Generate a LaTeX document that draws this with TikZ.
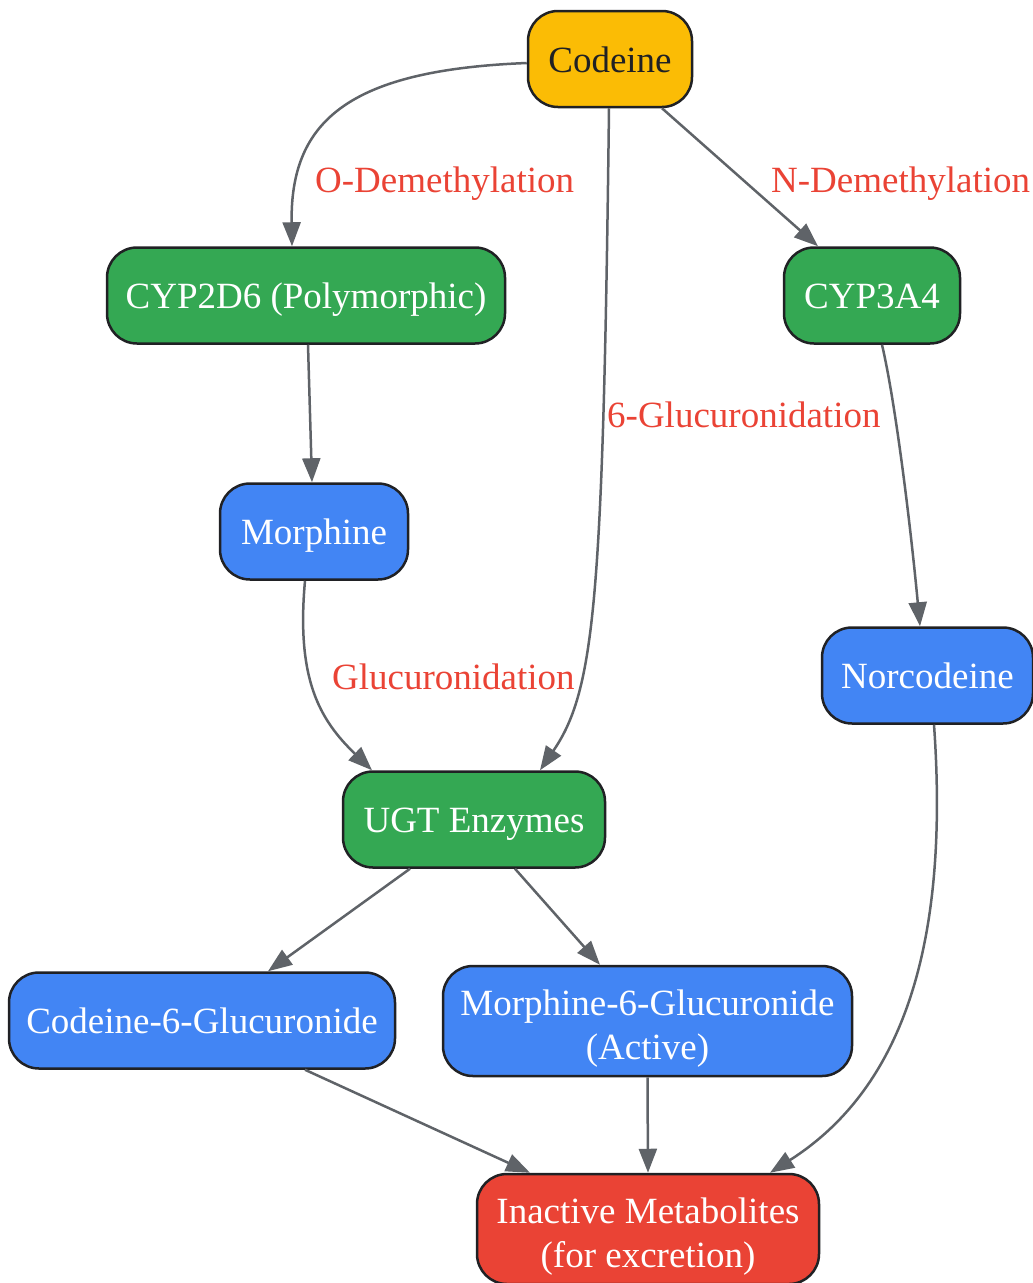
\documentclass[tikz,border=0pt]{standalone}
\usepackage{fontspec}
\setmainfont{Liberation Serif}
\usetikzlibrary{arrows.meta}
\definecolor{gyellow}{HTML}{FBBC05}
\definecolor{ggreen}{HTML}{34A853}
\definecolor{gblue}{HTML}{4285F4}
\definecolor{gred}{HTML}{EA4335}
\definecolor{gedge}{HTML}{5F6368}
\definecolor{gborder}{HTML}{202124}
\newcommand{\nstrut}{\rule[-8pt]{0pt}{42pt}}
\newcommand{\topstrut}{\rule{0pt}{40pt}}
\tikzset{
  box/.style={draw=gborder, line width=2.5pt, rounded corners=30pt, minimum height=96pt,
    inner sep=0pt, text=white, align=center, font=\fontsize{37}{44}\selectfont},
  edge/.style={draw=gedge, line width=2.5pt, -{Triangle[length=24pt,width=18pt]}},
  lbl/.style={text=gred, anchor=west, inner sep=0pt, font=\fontsize{37}{44}\selectfont}
}

\begin{document}
\begin{tikzpicture}[x=1pt, y=-1pt]
  \useasboundingbox (0,0) rectangle (1033,1283);
  % Nodes
  \node[box, fill=gyellow, text=gborder, minimum width=164pt] (codeine) at (610,59) {\nstrut Codeine};
  \node[box, fill=ggreen, minimum width=398pt] (cyp2d6) at (306,295.5) {\nstrut CYP2D6 (Polymorphic)};
  \node[box, fill=ggreen, minimum width=176pt] (cyp3a4) at (872,295.5) {\nstrut CYP3A4};
  \node[box, fill=gblue, minimum width=188pt] (morphine) at (314,531.5) {\nstrut Morphine};
  \node[box, fill=gblue, minimum width=211pt] (norcodeine) at (927.5,675.5) {\nstrut Norcodeine};
  \node[box, fill=ggreen, minimum width=262pt] (ugt) at (474,819.5) {\nstrut UGT Enzymes};
  \node[box, fill=gblue, minimum width=386pt] (c6g) at (202,1020.5) {\nstrut Codeine-6-Glucuronide};
  \node[box, fill=gblue, minimum width=409pt, minimum height=110pt] (m6g) at (647.5,1021) {\topstrut Morphine-6-Glucuronide\\(Active)\nstrut};
  \node[box, fill=gred, minimum width=342pt, minimum height=110pt] (inactive) at (648,1229) {\topstrut Inactive Metabolites\\(for excretion)\nstrut};

  % Edge labels
  \node[lbl] (odem) at (315,179) {\nstrut O-Demethylation};
  \node[lbl] (ndem) at (771,179) {\nstrut N-Demethylation};
  \node[lbl] (glc6) at (607,414) {\nstrut 6-Glucuronidation};
  \node[lbl] (glc) at (332,676) {\nstrut Glucuronidation};

  % Edges
  \draw[edge] ([yshift=-4pt]codeine.west) .. controls (350,70) and (290,120) .. ([xshift=-14pt]cyp2d6.north);
  \draw[edge] ([xshift=52pt]codeine.south) -- ([xshift=-54pt]cyp3a4.north);
  \draw[edge] ([xshift=-1pt]codeine.south) .. controls (603,600) and (595,690) .. ([xshift=66pt]ugt.north);
  \draw[edge] ([xshift=2pt]cyp2d6.south) -- ([xshift=-2pt]morphine.north);
  \draw[edge] ([xshift=10pt]cyp3a4.south) .. controls (895,400) and (910,520) .. ([xshift=-7.5pt]norcodeine.north);
  \draw[edge] ([xshift=-9pt]morphine.south) .. controls (296,680) and (320,720) .. ([xshift=-102pt]ugt.north);
  \draw[edge] ([xshift=-64pt]ugt.south) -- ([xshift=66pt]c6g.north);
  \draw[edge] ([xshift=41pt]ugt.south) -- ([xshift=-47.5pt]m6g.north);
  \draw[edge] ([xshift=103pt]c6g.south) -- ([xshift=-118pt]inactive.north);
  \draw[edge] (m6g.south) -- (inactive.north);
  \draw[edge] ([xshift=6.5pt]norcodeine.south) .. controls (950,950) and (900,1090) .. ([xshift=122pt]inactive.north);
\end{tikzpicture}
\end{document}
